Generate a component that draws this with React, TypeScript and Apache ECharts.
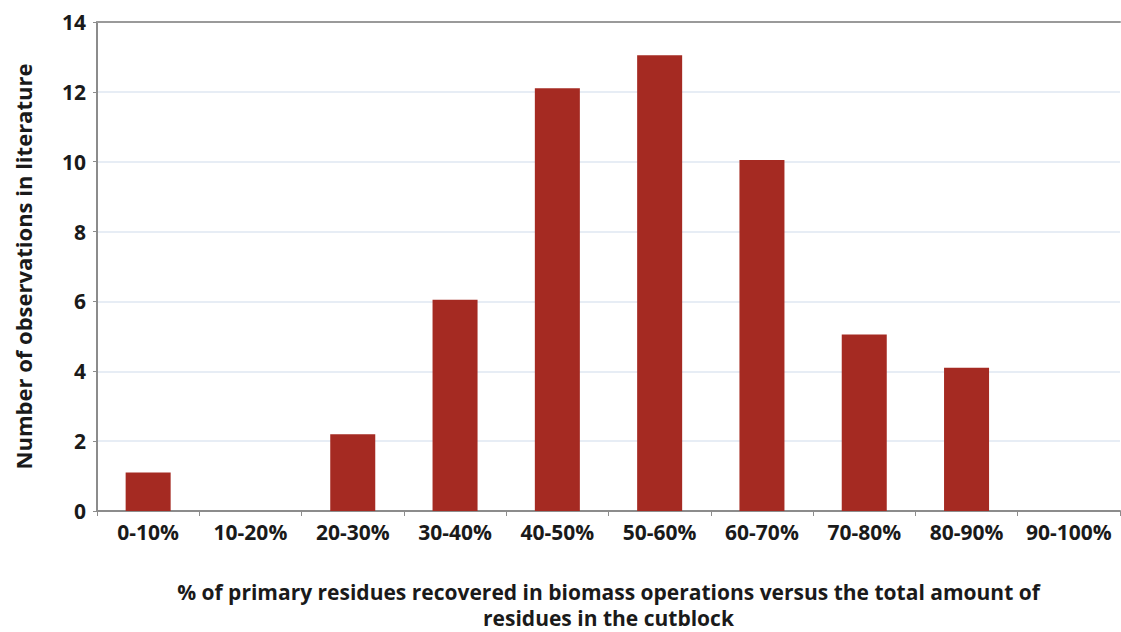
import React, { useEffect, useRef } from "react";
import * as echarts from "echarts";

const categories = ["0-10%", "10-20%", "20-30%", "30-40%", "40-50%", "50-60%", "60-70%", "70-80%", "80-90%", "90-100%"];
const observations = [1.1, 0, 2.2, 6.05, 12.1, 13.05, 10.05, 5.05, 4.1, 0];
const yTicks = { min: 0, max: 14, interval: 2 };
const xName = "% of primary residues recovered in biomass operations versus the total amount of\nresidues in the cutblock";
const yName = "Number of observations in literature";

const FONT = "'Open Sans', 'Noto Sans', sans-serif";
const FS = 22;

export default function App() {
  const ref = useRef<HTMLDivElement>(null);
  useEffect(() => {
    if (!ref.current) return;
    const chart = echarts.init(ref.current, null, { renderer: "svg" });
    chart.setOption({
      animation: false,
      backgroundColor: "#ffffff",
      textStyle: { fontFamily: FONT },
      grid: { left: 97, right: 1, top: 22, bottom: 121, containLabel: false, outerBoundsMode: "none" },
      xAxis: [
        {
          type: "category",
          data: categories,
          position: "bottom",
          name: xName,
          nameLocation: "middle",
          nameGap: 68,
          nameTextStyle: { fontFamily: FONT, fontWeight: "bold", fontSize: 21, color: "#1a1a1a", lineHeight: 26, align: "center" },
          axisLine: { show: true, lineStyle: { color: "#8c8c8c", width: 2 } },
          axisTick: { show: true, length: 5, lineStyle: { color: "#8c8c8c", width: 1 } },
          axisLabel: { fontFamily: FONT, fontWeight: "bold", fontSize: 21, color: "#1a1a1a", margin: 10, interval: 0 },
          splitLine: { show: false },
        },
        {
          type: "category",
          data: categories,
          position: "top",
          axisLine: { show: true, lineStyle: { color: "#9a9a9a", width: 2 } },
          axisTick: { show: false },
          axisLabel: { show: false },
        },
      ],
      yAxis: {
        type: "value",
        min: yTicks.min,
        max: yTicks.max,
        interval: yTicks.interval,
        name: yName,
        nameLocation: "middle",
        nameGap: 63,
        nameTextStyle: { fontFamily: FONT, fontWeight: "bold", fontSize: FS, color: "#1a1a1a" },
        axisLine: { show: true, lineStyle: { color: "#8c8c8c", width: 2 } },
        axisTick: { show: true, length: 4, lineStyle: { color: "#8c8c8c" } },
        axisLabel: { fontFamily: FONT, fontWeight: "bold", fontSize: 21, color: "#1a1a1a", margin: 11 },
        splitLine: { show: true, lineStyle: { color: "#dfe7f2", width: 1.5 } },
      },
      series: [
        {
          type: "bar",
          data: observations,
          xAxisIndex: 0,
          barWidth: "44%",
          itemStyle: { color: "#a52a22" },
        },
      ],
    });
    return () => chart.dispose();
  }, []);
  return <div ref={ref} style={{ position: "absolute", left: 0, top: 0, width: 1121, height: 632 }} />;
}
